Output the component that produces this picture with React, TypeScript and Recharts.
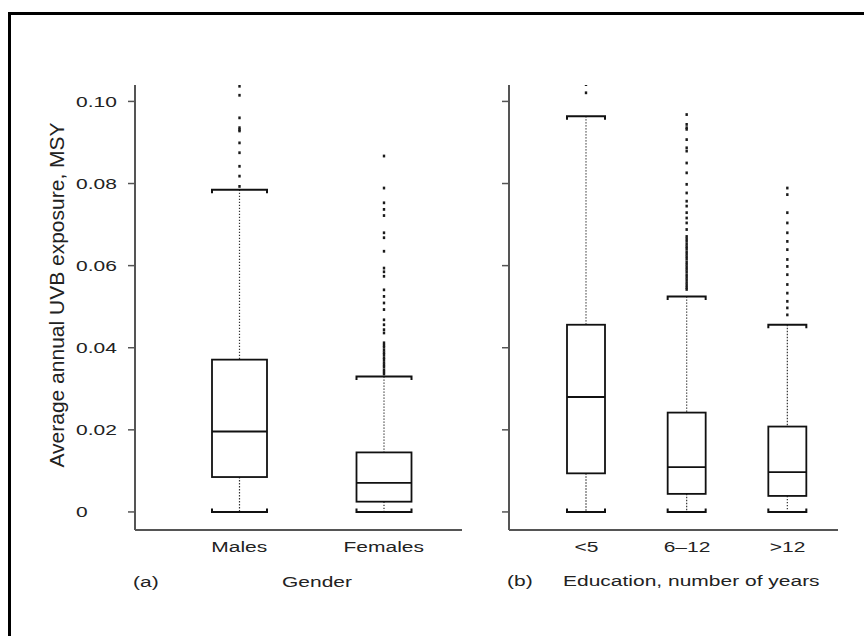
import React from 'react'
import { ComposedChart, Bar, XAxis, YAxis } from 'recharts'

// panel (a): gender
const genderCats = ['Males', 'Females']
const genderLow = [0, 0]
const genderQ1 = [0.0085, 0.0025]
const genderMedian = [0.0196, 0.0071]
const genderQ3 = [0.0371, 0.0145]
const genderHigh = [0.0785, 0.033]
const genderOutliers = [
  [0.1037, 0.1015, 0.096, 0.0936, 0.0931, 0.0928, 0.0899, 0.0875, 0.0842, 0.0818, 0.0793],
  [
    0.0867, 0.0789, 0.0753, 0.0737, 0.0722, 0.068, 0.0668, 0.0635, 0.0594, 0.0585, 0.0574,
    0.0541, 0.0525, 0.0509, 0.0493, 0.0468, 0.0456, 0.0444, 0.0436, 0.0412, 0.0406, 0.0401,
    0.0394, 0.0388, 0.0383, 0.0376, 0.0371, 0.0364, 0.0358, 0.0353, 0.0346, 0.0341, 0.0336,
  ],
]

// panel (b): education, years
const eduCats = ['<5', '6–12', '>12']
const eduLow = [0, 0, 0]
const eduQ1 = [0.0094, 0.0044, 0.0039]
const eduMedian = [0.028, 0.0109, 0.0097]
const eduQ3 = [0.0456, 0.0242, 0.0208]
const eduHigh = [0.0964, 0.0525, 0.0456]
const eduOutliers = [
  [0.1041, 0.1021],
  [
    0.0968, 0.0944, 0.0936, 0.0932, 0.0907, 0.0887, 0.0879, 0.085, 0.0826, 0.0798, 0.0777,
    0.0757, 0.0745, 0.0729, 0.0716, 0.0704, 0.0688, 0.0671, 0.0665, 0.0659, 0.0652, 0.0646,
    0.0641, 0.0634, 0.0628, 0.0622, 0.0616, 0.0609, 0.0603, 0.0597, 0.0591, 0.0585, 0.0578,
    0.0572, 0.0566, 0.0559, 0.0553, 0.0547, 0.0542,
  ],
  [0.0789, 0.0773, 0.0729, 0.0704, 0.068, 0.0659, 0.0639, 0.0615, 0.0598, 0.0578, 0.0554, 0.0533, 0.0513, 0.0497, 0.048],
]

const yTicks = [0, 0.02, 0.04, 0.06, 0.08, 0.1]

const FONT = '"Liberation Sans", Arial, sans-serif'
const INK = '#222'
const AXIS = '#555'
const SX = 1.4

const rows = (cats: string[], lo: number[], q1: number[], med: number[], q3: number[], hi: number[], out: number[][]) =>
  cats.map((name, i) => ({ name, lo: lo[i], q1: q1[i], med: med[i], q3: q3[i], hi: hi[i], out: out[i] }))

const genderData = rows(genderCats, genderLow, genderQ1, genderMedian, genderQ3, genderHigh, genderOutliers)
const eduData = rows(eduCats, eduLow, eduQ1, eduMedian, eduQ3, eduHigh, eduOutliers)

// box drawn from the range bar [lo, hi]; other levels use the same px/unit
const BoxShape = (props: any) => {
  const { x, y, width, height, payload } = props
  const top = Math.min(y, y + height)
  const h = Math.abs(height)
  const k = h / (payload.hi - payload.lo)
  const bottom = top + h
  const yOf = (v: number) => bottom - (v - payload.lo) * k
  const cx = x + width / 2
  const yQ1 = yOf(payload.q1)
  const yQ3 = yOf(payload.q3)
  const yMed = yOf(payload.med)
  const yHi = yOf(payload.hi)
  const yLo = yOf(payload.lo)
  return (
    <g>
      <line x1={cx} x2={cx} y1={yHi} y2={yQ3} stroke="#333" strokeWidth={1.2} strokeDasharray="1.4 1.6" />
      <line x1={cx} x2={cx} y1={yQ1} y2={yLo} stroke="#333" strokeWidth={1.2} strokeDasharray="1.4 1.6" />
      <path d={`M${x},${yHi + 3.5}V${yHi}H${x + width}V${yHi + 3.5}`} fill="none" stroke="#111" strokeWidth={2} />
      <path d={`M${x},${yLo - 3.5}V${yLo}H${x + width}V${yLo - 3.5}`} fill="none" stroke="#111" strokeWidth={2} />
      <rect x={x} y={yQ3} width={width} height={yQ1 - yQ3} fill="#fff" stroke="#111" strokeWidth={1.8} />
      <line x1={x} x2={x + width} y1={yMed} y2={yMed} stroke="#111" strokeWidth={1.8} />
      {payload.out.map((v: number, i: number) => (
        <rect key={i} x={cx - 1.2} y={yOf(v) - 1.4} width={2.4} height={2.8} fill="#1a1a1a" />
      ))}
    </g>
  )
}

// tick mark drawn next to the label (tickMargin 0 => p.x is the outer end of the tick)
const ValueTick = (p: any) => (
  <g>
    <line x1={p.x} x2={p.x + 7} y1={p.y} y2={p.y} stroke={AXIS} strokeWidth={1.5} />
    <text
      transform={`translate(${p.x - 52},${p.y + 5.5}) scale(${SX},1)`}
      textAnchor="start"
      fontSize={15}
      fontFamily={FONT}
      fill={INK}
    >
      {p.payload.value === 0 ? '0' : p.payload.value.toFixed(2)}
    </text>
  </g>
)

const BareTick = (p: any) => <line x1={p.x} x2={p.x + 7} y1={p.y} y2={p.y} stroke={AXIS} strokeWidth={1.5} />

const CatTick = (p: any) => (
  <text
    transform={`translate(${p.x},${p.y + 22}) scale(${SX},1)`}
    textAnchor="middle"
    fontSize={15}
    fontFamily={FONT}
    fill={INK}
  >
    {p.payload.value}
  </text>
)

const Caption = ({ x, y, children }: { x: number; y: number; children: React.ReactNode }) => (
  <text transform={`translate(${x},${y}) scale(${SX},1)`} fontSize={15} fontFamily={FONT} fill={INK}>
    {children}
  </text>
)

export default function App() {
  const axisLine = { stroke: AXIS, strokeWidth: 2 }
  return (
    <div style={{ position: 'absolute', left: 0, top: 0, width: 864, height: 636, overflow: 'hidden', background: '#fff' }}>
      <div style={{ position: 'absolute', left: 0, top: 0 }}>
        <ComposedChart width={470} height={636} data={genderData} margin={{ top: 85, right: 8, bottom: 0, left: 0 }}>
          <XAxis
            dataKey="name"
            height={106}
            padding={{ left: 32, right: 6 }}
            axisLine={axisLine}
            tickLine={false}
            tickSize={0}
            tickMargin={0}
            tick={<CatTick />}
          />
          <YAxis
            width={135}
            domain={[-0.0044, 0.104]}
            allowDataOverflow
            ticks={yTicks}
            axisLine={axisLine}
            tickLine={false}
            tickSize={7}
            tickMargin={0}
            tick={<ValueTick />}
          />
          <Bar dataKey={(d: any) => [d.lo, d.hi]} barSize={55} shape={<BoxShape />} isAnimationActive={false} />
        </ComposedChart>
      </div>
      <div style={{ position: 'absolute', left: 470, top: 0 }}>
        <ComposedChart width={378} height={636} data={eduData} margin={{ top: 85, right: 10, bottom: 0, left: 0 }}>
          <XAxis
            dataKey="name"
            height={106}
            padding={{ left: 27, right: 0 }}
            axisLine={axisLine}
            tickLine={false}
            tickSize={0}
            tickMargin={0}
            tick={<CatTick />}
          />
          <YAxis
            width={39}
            domain={[-0.0044, 0.104]}
            allowDataOverflow
            ticks={yTicks}
            axisLine={axisLine}
            tickLine={false}
            tickSize={7}
            tickMargin={0}
            tick={<BareTick />}
          />
          <Bar dataKey={(d: any) => [d.lo, d.hi]} barSize={38} shape={<BoxShape />} isAnimationActive={false} />
        </ComposedChart>
      </div>
      <svg width={864} height={636} style={{ position: 'absolute', left: 0, top: 0, pointerEvents: 'none' }}>
        <rect x={9.5} y={13.5} width={900} height={700} fill="none" stroke="#000" strokeWidth={3} />
        <text
          transform="translate(64,295) rotate(-90)"
          textAnchor="middle"
          fontSize={21}
          fontFamily={FONT}
          fill={INK}
        >
          Average annual UVB exposure, MSY
        </text>
        <Caption x={133} y={587}>(a)</Caption>
        <Caption x={282} y={587}>Gender</Caption>
        <Caption x={507} y={586}>(b)</Caption>
        <Caption x={563} y={586}>Education, number of years</Caption>
      </svg>
    </div>
  )
}
